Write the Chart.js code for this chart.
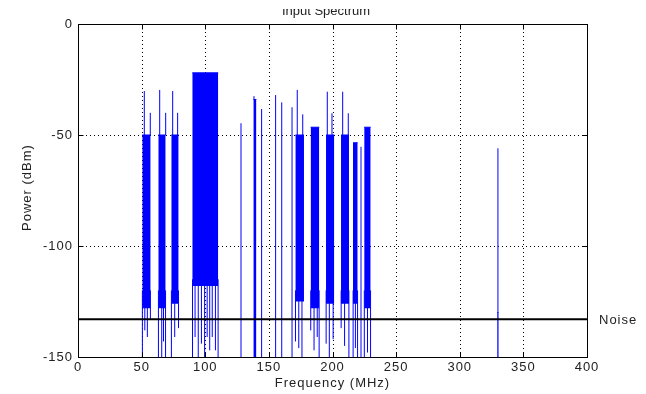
<!DOCTYPE html>
<html><head><meta charset="utf-8">
<script src="https://cdn.jsdelivr.net/npm/chart.js@4.4.1/dist/chart.umd.min.js"></script>
<style>html,body{margin:0;padding:0;background:#fff;}#wrap{width:646px;height:394px;position:relative;}</style>
</head><body><div id="wrap"><canvas id="c" width="646" height="394"></canvas></div>
<script>
// ---- data ----
const xTicks = [0, 50, 100, 150, 200, 250, 300, 350, 400];
const yTicks = [0, -50, -100, -150];
const noiseLevel = -133;

// filled channel bands (MHz, dBm)
const bandStart = [50.5, 63.1, 73.3, 89.8, 137.8, 170.8, 182.8, 194.9, 206.7, 216.1, 224.9, 329.6];
const bandEnd   = [57.1, 68.9, 79.1, 110.2, 140.2, 177.6, 189.6, 201.4, 213.0, 219.8, 230.0, 330.4];
const bandLevel = [-50, -50, -50, -22, -34, -50, -46.5, -50, -50, -53.5, -46.5, -130];
const bandFloor = [-128, -128, -126, -118, -150, -125, -128, -126, -126, -126, -128, -150];

// vertical trace lines: carriers and dips
const lineFreq = [52.1, 56.8, 64.2, 68.9, 74.4, 78.3, 138.3, 172.3, 176.6, 195.9, 199.6, 208.0, 212.4,
  128.1, 144.3, 155.3, 160.1, 168.2, 222.4, 330.0,
  50.6, 52.5, 54.5, 56.9, 63.2, 65.8, 67.2, 68.8, 73.4, 76.0, 79.0,
  90.0, 92.0, 94.5, 97.0, 99.5, 101.5, 103.5, 105.5, 108.0, 110.1,
  170.9, 173.5, 176.0, 182.9, 185.5, 188.0, 189.5, 195.0, 197.5, 200.5,
  206.8, 209.5, 212.9, 216.2, 218.0, 219.7, 225.0, 227.5, 229.9];
const lineTop = [-30.2, -40, -29.7, -40, -30.2, -40, -32.5, -29.7, -40.7, -30.5, -40.2, -30.5, -40.2,
  -44.7, -38.3, -32, -35.3, -37.5, -55.3, -56,
  -120, -120, -120, -120, -120, -120, -120, -120, -120, -120, -120,
  -115, -115, -115, -115, -115, -115, -115, -115, -115, -115,
  -120, -120, -120, -120, -120, -120, -120, -120, -120, -120,
  -120, -120, -120, -120, -120, -120, -120, -120, -120];
const lineBottom = [-50, -50, -50, -50, -50, -50, -34, -50, -50, -50, -50, -50, -50,
  -150, -150, -150, -150, -150, -150, -150,
  -150, -138, -141, -133, -150, -150, -143, -150, -150, -141, -137,
  -150, -141, -150, -144, -150, -141, -147, -141, -147, -150,
  -143, -146, -150, -138, -147, -141, -150, -144, -150, -142,
  -137, -145, -150, -150, -146, -150, -150, -148, -150];

const BLUE = '#0000ff';
const FONT = '"Liberation Sans", Arial, Helvetica, sans-serif';

// ---- build datasets ----
const lineData = [];
lineFreq.forEach((f, i) => {
  lineData.push({x: f, y: lineBottom[i]}, {x: f, y: lineTop[i]}, {x: f, y: null});
});

const datasets = [];
datasets.push({
  label: 'Noise', data: [{x: xTicks[0], y: noiseLevel}, {x: xTicks[xTicks.length - 1], y: noiseLevel}],
  showLine: true, borderColor: '#000', borderWidth: 2, pointRadius: 0, fill: false
});
datasets.push({
  label: 'traces', data: lineData, showLine: true, spanGaps: false,
  borderColor: BLUE, borderWidth: 1, pointRadius: 0, fill: false
});
bandStart.forEach((s, i) => {
  datasets.push({
    label: 'band' + i, data: [{x: s, y: bandLevel[i]}, {x: bandEnd[i], y: bandLevel[i]}],
    showLine: true, borderColor: BLUE, backgroundColor: BLUE, borderWidth: 1, pointRadius: 0,
    fill: {value: bandFloor[i]}
  });
});

const framePlugin = {
  id: 'frame',
  beforeLayout(chart) { chart.ctx.letterSpacing = '1px'; },
  beforeDraw(chart) { chart.ctx.letterSpacing = '1px'; },
  beforeDatasetsDraw(chart) {
    const {ctx, chartArea: a, scales: {x, y}} = chart;
    ctx.save();
    ctx.strokeStyle = '#000';
    ctx.lineWidth = 1;
    ctx.setLineDash([1, 3]);
    xTicks.forEach(v => {
      const px = Math.round(x.getPixelForValue(v)) + 0.5;
      ctx.beginPath(); ctx.moveTo(px, a.top); ctx.lineTo(px, a.bottom); ctx.stroke();
    });
    yTicks.forEach(v => {
      const py = Math.round(y.getPixelForValue(v)) + 0.5;
      ctx.beginPath(); ctx.moveTo(a.left, py); ctx.lineTo(a.right, py); ctx.stroke();
    });
    ctx.restore();
  },
  afterDatasetsDraw(chart) {
    const {ctx, chartArea: a, scales: {x, y}} = chart;
    ctx.save();
    ctx.strokeStyle = '#000';
    ctx.lineWidth = 1;
    ctx.setLineDash([]);
    const L = Math.round(a.left) + 0.5, R = Math.round(a.right) + 0.5;
    const T = Math.round(a.top) + 0.5, B = Math.round(a.bottom) + 0.5;
    ctx.strokeRect(L, T, R - L, B - T);
    const tl = 5;
    xTicks.forEach(v => {
      const px = Math.round(x.getPixelForValue(v)) + 0.5;
      ctx.beginPath();
      ctx.moveTo(px, B); ctx.lineTo(px, B - tl);
      ctx.moveTo(px, T); ctx.lineTo(px, T + tl);
      ctx.stroke();
    });
    yTicks.forEach(v => {
      const py = Math.round(y.getPixelForValue(v)) + 0.5;
      ctx.beginPath();
      ctx.moveTo(L, py); ctx.lineTo(L + tl, py);
      ctx.moveTo(R, py); ctx.lineTo(R - tl, py);
      ctx.stroke();
    });
    // texts
    ctx.letterSpacing = '1px';
    ctx.fillStyle = '#222';
    ctx.font = '13px ' + FONT;
    ctx.textAlign = 'left';
    ctx.textBaseline = 'middle';
    ctx.fillText('Noise', a.right + 12, y.getPixelForValue(noiseLevel) + 1);
    ctx.textAlign = 'center';
    ctx.fillText('Frequency (MHz)', (a.left + a.right) / 2, 383);
    ctx.save();
    ctx.translate(27, (a.top + a.bottom) / 2 - 3);
    ctx.rotate(-Math.PI / 2);
    ctx.fillText('Power (dBm)', 0, 0);
    ctx.restore();
    // title, its top cut off as in the reference
    ctx.save();
    ctx.letterSpacing = '0px';
    ctx.beginPath(); ctx.rect(0, 9, 646, 14); ctx.clip();
    ctx.textBaseline = 'alphabetic';
    ctx.fillText('Input Spectrum', 326, 15);
    ctx.restore();
    ctx.restore();
  }
};

new Chart(document.getElementById('c'), {
  type: 'scatter',
  data: {datasets},
  options: {
    responsive: false, devicePixelRatio: 1, animation: false,
    layout: {padding: {left: 0, top: 24, right: 59, bottom: 0}},
    plugins: {legend: {display: false}, tooltip: {enabled: false}, title: {display: false}},
    scales: {
      x: {
        type: 'linear', min: 0, max: 400,
        afterBuildTicks: s => { s.ticks = xTicks.map(v => ({value: v})); },
        afterFit: s => { s.height = 37; },
        grid: {display: false, drawTicks: false}, border: {display: false},
        ticks: {color: '#222', font: {family: FONT, size: 13}, padding: 3, maxRotation: 0, autoSkip: false}
      },
      y: {
        type: 'linear', min: -150, max: 0,
        afterBuildTicks: s => { s.ticks = yTicks.map(v => ({value: v})); },
        afterFit: s => { s.width = 78; },
        grid: {display: false, drawTicks: false}, border: {display: false},
        ticks: {color: '#222', font: {family: FONT, size: 13}, padding: 5, autoSkip: false}
      }
    }
  },
  plugins: [framePlugin]
});
</script></body></html>
